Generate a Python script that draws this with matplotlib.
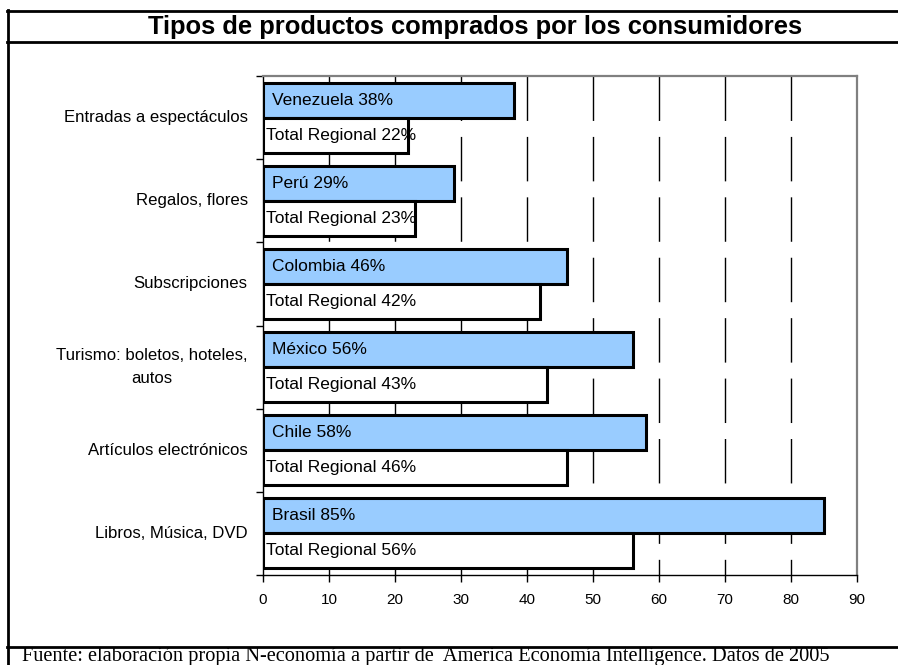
import matplotlib
matplotlib.use("Agg")
import matplotlib.pyplot as plt
from matplotlib.lines import Line2D
import numpy as np

plt.rcParams['font.family'] = ['Liberation Sans', 'DejaVu Sans']

categories = ["Entradas a espectáculos", "Regalos, flores", "Subscripciones",
              "Turismo: boletos, hoteles,\nautos", "Artículos electrónicos",
              "Libros, Música, DVD"]
countries = ["Venezuela", "Perú", "Colombia", "México", "Chile", "Brasil"]
country_values = [38, 29, 46, 56, 58, 85]
regional_values = [22, 23, 42, 43, 46, 56]
regional_label = "Total Regional"
x_ticks = [0, 10, 20, 30, 40, 50, 60, 70, 80, 90]
title = "Tipos de productos comprados por los consumidores"
source = "Fuente: elaboración propia N-economía a partir de  America Economía Intelligence. Datos de 2005"

W, H = 898, 665
fig = plt.figure(figsize=(W / 100, H / 100), dpi=100)
ax = fig.add_axes([263 / W, 1 - 575 / H, (857 - 263) / W, (575 - 76) / H])

n = len(categories)
centers = np.arange(n)[::-1].astype(float)  # first category on top
bh = 0.42
blue_y = centers + 0.21
white_y = centers - 0.21

ax.barh(blue_y, country_values, height=bh, color="#99CCFF", edgecolor="black",
        linewidth=2.2, zorder=3)
ax.barh(white_y, regional_values, height=bh, color="white", edgecolor="black",
        linewidth=2.2, zorder=3)

for y, c, v in zip(blue_y, countries, country_values):
    ax.annotate(f"{c} {v}%", xy=(0, y), xytext=(6.5, 0), textcoords="offset points",
                ha="left", va="center", fontsize=12.5, zorder=5)
for y, v in zip(white_y, regional_values):
    ax.annotate(f"{regional_label} {v}%", xy=(0, y), xytext=(2.2, 0), textcoords="offset points",
                ha="left", va="center", fontsize=12.5, zorder=5)

ax.set_xlim(0, 90)
ax.set_ylim(-0.5, n - 0.5)

# dashed vertical gridlines drawn from top to bottom
for xv in x_ticks[1:-1]:
    ax.plot([xv, xv], [1, 0], transform=ax.get_xaxis_transform(), color="black",
            linewidth=1.0, linestyle=(0, (32, 11.5)), zorder=1)

ax.set_xticks(x_ticks)
ax.set_xticklabels([str(t) for t in x_ticks], fontsize=11)
ax.tick_params(axis="x", direction="out", length=5, width=1, pad=8)

ax.set_yticks(np.arange(-0.5, n, 1.0))
ax.set_yticklabels([])
ax.tick_params(axis="y", direction="out", length=5, width=1)
for c, lab in zip(centers, categories):
    ax.annotate(lab, xy=(0, c), xycoords=("axes fraction", "data"), xytext=(-11, 0),
                textcoords="offset points", ha="right", va="center", fontsize=12.1,
                multialignment="center", linespacing=1.6)

for s in ["top", "right"]:
    ax.spines[s].set_color("#808080")
    ax.spines[s].set_linewidth(1.6)
for s in ["left", "bottom"]:
    ax.spines[s].set_color("black")
    ax.spines[s].set_linewidth(1.0)

# frame lines
def hline(y, x0=7, x1=W):
    fig.add_artist(Line2D([x0 / W, x1 / W], [1 - y / H, 1 - y / H], color="black",
                          linewidth=2.0, transform=fig.transFigure))

hline(10.5)
hline(42)
hline(647)
fig.add_artist(Line2D([7.5 / W, 7.5 / W], [1 - 10 / H, 0], color="black", linewidth=2.0,
                      transform=fig.transFigure))

fig.text(475 / W, 1 - 27 / H, title, ha="center", va="center", fontsize=18.4,
         fontweight="bold")
fig.text(22 / W, 1 - 660.5 / H, source, ha="left", va="baseline", fontsize=14.7,
         family=["Liberation Serif", "DejaVu Serif"])

fig.savefig("out.png", dpi=100)
